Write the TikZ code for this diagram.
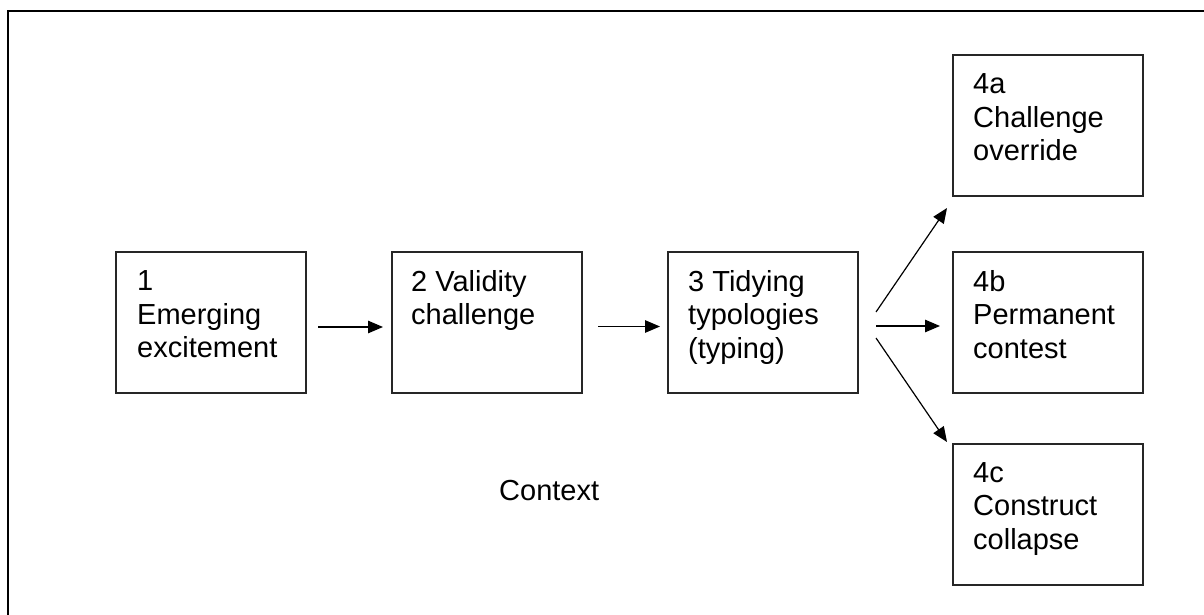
\documentclass[tikz,border=0pt]{standalone}
\usepackage{fontspec}
\setmainfont{Liberation Sans}
\usetikzlibrary{arrows.meta,calc}
\begin{document}
\begin{tikzpicture}[x=1bp,y=-1bp,
  stage/.style={draw=black!85, line width=1.3bp, minimum width=190bp, minimum height=141bp,
    inner sep=0pt, outer sep=0pt, anchor=north west},
  stagetext/.style={anchor=north west, align=left, inner sep=0pt,
    font=\fontsize{29bp}{33.5bp}\selectfont},
  flow/.style={line width=1.2bp, -{Triangle[length=15bp,width=12.5bp]}}]
\useasboundingbox (0,0) rectangle (1204,615);
% outer frame (only its left and top edges fall inside the page)
\draw[line width=2.5bp] (8,625) -- (8,11) -- (1215,11);

% stage boxes
\node[stage] (b1)  at (116,252) {};
\node[stage] (b2)  at (392,252) {};
\node[stage] (b3)  at (668,252) {};
\node[stage] (b4a) at (953,55)  {};
\node[stage] (b4b) at (953,252) {};
\node[stage] (b4c) at (953,444) {};

% stage captions
\node[stagetext] (t1)  at ($(b1.north west)+(21,18.5)$)  {1\\Emerging\\excitement};
\node[stagetext] (t2)  at ($(b2.north west)+(19,18)$)    {2 Validity\\challenge};
\node[stagetext] (t3)  at ($(b3.north west)+(20,18)$)    {3 Tidying\\typologies\\(typing)};
\node[stagetext] (t4a) at ($(b4a.north west)+(20,18.5)$) {4a\\Challenge\\override};
\node[stagetext] (t4b) at ($(b4b.north west)+(20,18)$)   {4b\\Permanent\\contest};
\node[stagetext] (t4c) at ($(b4c.north west)+(20,18)$)   {4c\\Construct\\collapse};

\node[anchor=base west, inner sep=0pt, font=\fontsize{29bp}{33.5bp}\selectfont] (ctx) at (499,500) {Context};

% connectors
\draw[flow] ($(b1.east)+(12,4.5)$) -- ($(b2.west)+(-9,4.5)$);
\draw[flow] ($(b2.east)+(16,4)$) -- ($(b3.west)+(-8,4)$);
\draw[flow] ($(b3.east)+(18,-10.5)$) -- ($(b4a.south west)+(-6,12)$);
\draw[flow] ($(b3.east)+(18,3.5)$) -- ($(b4b.west)+(-13,3.5)$);
\draw[flow] ($(b3.east)+(18,15.5)$) -- ($(b4c.north west)+(-6,-2)$);
\end{tikzpicture}
\end{document}
